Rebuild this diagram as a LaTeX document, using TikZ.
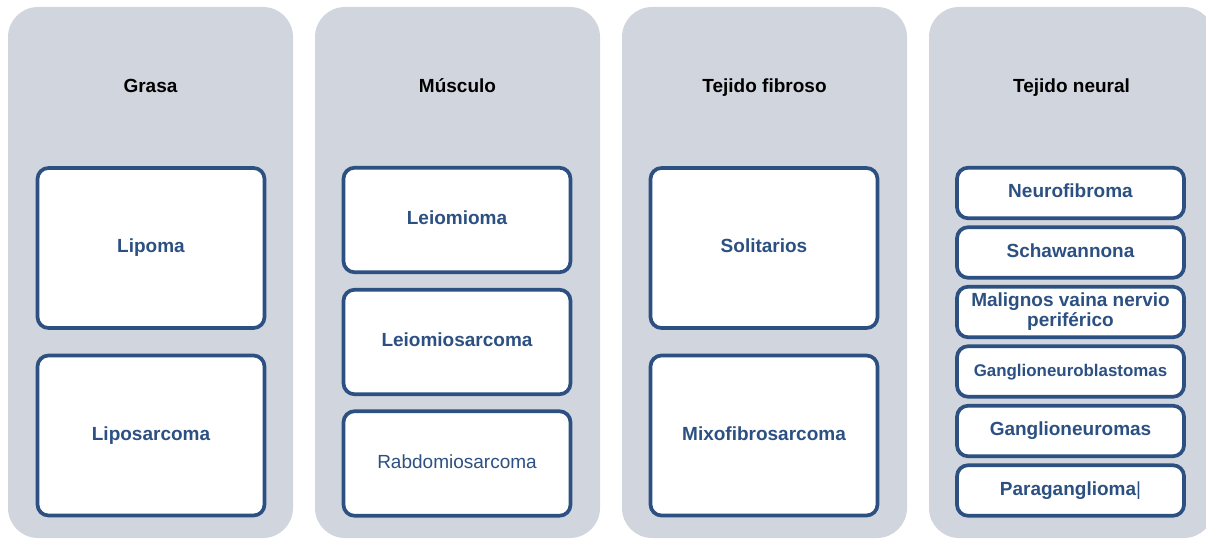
\documentclass[tikz,border=0pt]{standalone}
\usepackage{fontspec}
\setmainfont{Liberation Sans}

\definecolor{panelgray}{RGB}{209,213,221}
\definecolor{boxblue}{RGB}{44,80,130}

\tikzset{
	panel/.style={fill=panelgray, rounded corners=30pt, minimum width=285pt, minimum height=531pt, inner sep=0pt},
	title/.style={font=\fontsize{19}{22}\selectfont\bfseries, anchor=base},
	item/.style={draw=boxblue, line width=3.7pt, fill=white, rounded corners=11pt, minimum width=227pt, text=boxblue, font=\fontsize{19}{20}\selectfont\bfseries, align=center, inner sep=0pt, text height=13.7pt, text depth=4pt},
	bigitem/.style={item, minimum height=160pt},
	miditem/.style={item, minimum height=104.5pt},
	smallitem/.style={item, minimum height=50.5pt},
}

\begin{document}
\begin{tikzpicture}[x=1pt, y=-1pt]
	\useasboundingbox (0,0) rectangle (1206,540);

	%panels
	\node[panel] (grasa) at (150.5,272.5) {};
	\node[panel] (musculo) at (457.5,272.5) {};
	\node[panel] (fibroso) at (764.5,272.5) {};
	\node[panel] (neural) at (1071.5,272.5) {};

	%titles
	\node[title] (tgrasa) at (150.5,93) {Grasa};
	\node[title] (tmusculo) at (457.5,93) {Músculo};
	\node[title] (tfibroso) at (764.5,93) {Tejido fibroso};
	\node[title] (tneural) at (1071.5,93) {Tejido neural};

	%grasa
	\node[bigitem] (lipoma) at (151,248) {Lipoma};
	\node[bigitem] (liposarcoma) at (151,435.5) {Liposarcoma};

	%musculo
	\node[miditem] (leiomioma) at (457,220) {Leiomioma};
	\node[miditem] (leiomiosarcoma) at (457,342) {Leiomiosarcoma};
	\node[miditem, font=\fontsize{19}{21}\selectfont\mdseries] (rabdo) at (457,463.5) {Rabdomiosarcoma};

	%tejido fibroso
	\node[bigitem] (solitarios) at (764,248) {Solitarios};
	\node[bigitem] (mixo) at (764,435.5) {Mixofibrosarcoma};

	%tejido neural
	\node[smallitem] (neurofibroma) at (1070.5,193) {Neurofibroma};
	\node[smallitem] (schawannona) at (1070.5,252.5) {Schawannona};
	\node[smallitem, text height={}, text depth={}] (malignos) at (1070.5,312) {Malignos vaina nervio\\periférico};
	\node[smallitem, font=\fontsize{16.9}{20}\selectfont\bfseries] (gneuroblast) at (1070.5,371.5) {Ganglioneuroblastomas};
	\node[smallitem] (gneuromas) at (1070.5,431) {Ganglioneuromas};
	\node[smallitem] (paragang) at (1070.5,490.5) {Paraganglioma{\mdseries|}};
\end{tikzpicture}
\end{document}
